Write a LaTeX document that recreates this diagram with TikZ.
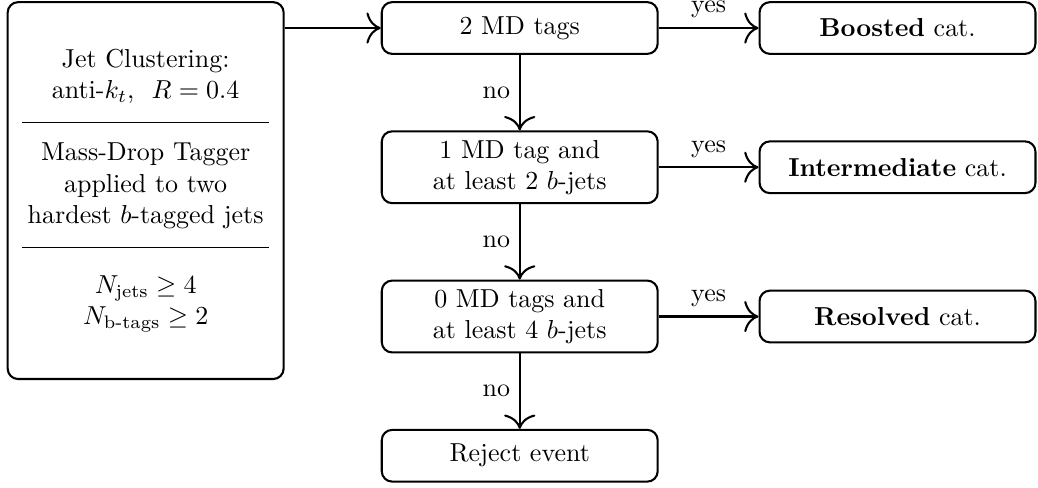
\documentclass[tikz,border=0pt]{standalone}
\usepackage{amsmath}
\usetikzlibrary{positioning,arrows.meta}

\begin{document}
\begin{tikzpicture}[thick,>={Computer Modern Rightarrow[width=12pt,length=5.5pt]},
		node distance=1.02cm and 1.35cm,
		box/.style={draw,rounded corners,align=flush center,text width=3.5cm,minimum height=0.7cm}]
		\node[box] (md2) {2 MD tags} ;
		\node[box,below=of md2] (md1) {1 MD tag and\\at least 2 $b$-jets} ;
		\node[box,below=of md1] (md0) {0 MD tags and\\at least 4 $b$-jets} ;
		\node[box,below=of md0] (reject) {Reject event} ;
		\node[box,right=of md2] (boosted) {\textbf{Boosted} cat.} ;
		\node[box,right=of md1] (inter) {\textbf{Intermediate} cat.} ;
		\node[box,right=of md0] (resolved) {\textbf{Resolved} cat.} ;
		\node[box,minimum height=5.1cm,anchor=north east] (cuts) at ([xshift=-1.3cm]md2.north west)
			{Jet Clustering:\\anti-$k_t$,~~$R=0.4$\\
			\rule[0.6ex]{3.35cm}{0.4pt}\\
			Mass-Drop Tagger\\applied to two\\hardest $b$-tagged jets\\
			\rule[0.6ex]{3.35cm}{0.4pt}\\[3pt]
			$N_\text{jets}\geq 4$\\$N_\text{b-tags}\geq 2$} ;
		\draw[->] (md2.west -| cuts.east) -- (md2) ;
		\draw[->] (md2) -- node[left] {no} (md1) ;
		\draw[->] (md1) -- node[left] {no} (md0) ;
		\draw[->] (md0) -- node[left] {no} (reject) ;
		\draw[->] (md2) -- node[above] {yes} (boosted) ;
		\draw[->] (md1) -- node[above] {yes} (inter) ;
		\draw[->] (md0) -- node[above] {yes} (resolved) ;
		\path (cuts.west |- reject.south) coordinate (bl) ;
		\pgfresetboundingbox
		\useasboundingbox ([shift={(-0.09,-0.07)}]bl) rectangle ([shift={(0.02,0.015)}]boosted.north east) ;
	\end{tikzpicture}
\end{document}
